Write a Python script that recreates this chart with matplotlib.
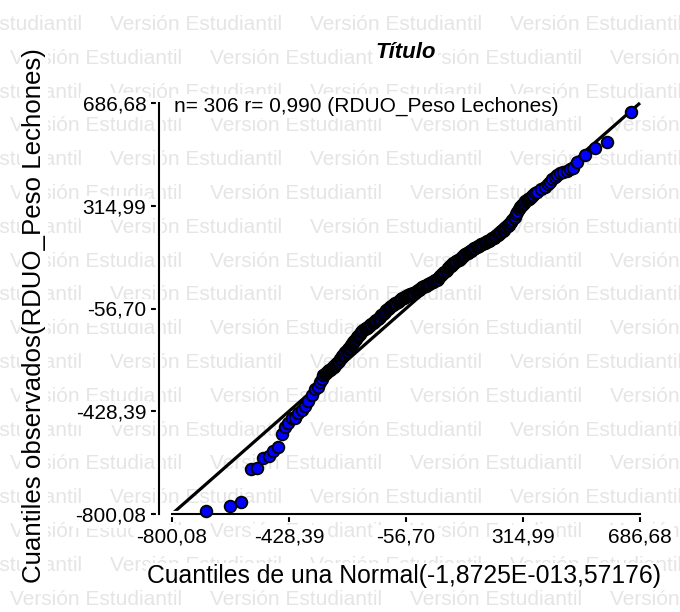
import matplotlib
matplotlib.use("Agg")
import matplotlib.pyplot as plt
import matplotlib.patheffects as pe

plt.rcParams['font.family'] = ['Liberation Sans', 'DejaVu Sans']

# ---- data ----
# lower tail
theo_low = [-692.1, -617.4, -579.3, -549.1, -528.5, -510.1, -491.0, -478.3, -464.3, -452.2,
            -441.1, -430.6, -418.9, -409.3, -398.9, -388.1, -377.6, -367.1, -356.3, -345.8,
            -335.3, -329.0, -324.0]
obs_low = [-789.2, -770.1, -755.6, -639.1, -632.6, -597.5, -589.2, -570.4, -559.5, -511.4,
           -485.4, -472.0, -454.6, -451.0, -435.8, -422.1, -407.6, -390.2, -369.6, -346.1,
           -339.6, -324.0, -310.0]
# dense middle band
theo_mid = [
    -319.4, -315.5, -312.0, -308.5, -305.0, -301.5, -298.5, -295.5, -292.7, -290.0,
    -287.0, -284.0, -281.5, -279.0, -276.9, -273.5, -270.0, -266.5, -263.0, -259.5,
    -255.9, -252.5, -249.0, -245.0, -241.5, -238.0, -234.6, -232.0, -229.0, -226.0,
    -223.5, -221.0, -218.7, -215.5, -212.0, -209.0, -205.5, -202.0, -199.0, -195.5,
    -192.4, -188.5, -185.0, -181.5, -178.0, -174.5, -171.1, -167.0, -163.0, -159.0,
    -155.0, -151.0, -147.0, -143.0, -139.3, -135.0, -131.0, -127.0, -123.0, -119.0,
    -115.0, -111.0, -107.5, -103.5, -99.5, -95.5, -91.5, -87.5, -83.5, -79.5,
    -75.8, -72.0, -68.0, -64.5, -61.0, -57.5, -54.0, -50.5, -47.0, -43.5,
    -40.0, -37.0, -33.5, -30.0, -26.0, -22.5, -19.0, -15.5, -12.0, -8.5,
    -5.0, -1.5, 2.0, 5.5, 9.1, 13.0, 17.0, 21.0, 25.0, 29.0,
    33.0, 37.0, 40.8, 44.5, 48.0, 51.5, 55.0, 58.5, 62.0, 65.5,
    69.0, 72.5, 76.0, 79.5, 83.0, 85.5, 88.0, 91.0, 93.6, 97.0,
    100.0, 103.5, 107.0, 110.5, 114.0, 117.5, 121.0, 125.0, 128.5, 132.0,
    136.1, 139.5, 143.0, 146.5, 150.0, 153.5, 157.0, 160.5, 164.0, 167.5,
    171.0, 174.5, 178.4, 182.0, 186.0, 190.0, 194.0, 198.0, 202.0, 206.0,
    210.2, 214.0, 218.0, 222.0, 226.0, 230.0, 234.0, 238.0, 241.9, 246.0,
    250.0, 254.0, 258.0, 262.0, 266.0, 270.0, 273.7, 277.5, 281.0, 285.5,
    289.6, 293.5, 297.0, 301.0, 305.5, 308.5, 311.0, 314.5, 318.0, 322.0,
    326.7, 330.0, 333.0, 336.5, 340.0, 344.0, 347.7, 353.0,
]
obs_mid = [
    -297.3, -294.0, -290.5, -287.0, -283.0, -280.0, -277.5, -275.5, -273.0, -270.0,
    -267.0, -263.5, -260.5, -257.5, -255.0, -250.5, -245.0, -240.0, -235.0, -230.0,
    -224.9, -220.0, -215.0, -210.0, -205.0, -200.0, -194.9, -190.5, -186.5, -182.5,
    -178.5, -174.5, -170.7, -166.0, -161.0, -156.5, -152.0, -147.5, -143.5, -139.0,
    -134.5, -131.5, -128.5, -125.5, -122.5, -119.5, -116.4, -112.5, -109.0, -105.0,
    -101.5, -97.5, -94.0, -90.0, -86.4, -81.5, -77.0, -72.5, -68.0, -63.5,
    -59.0, -54.5, -50.2, -47.0, -44.0, -41.0, -38.0, -35.0, -32.0, -29.0,
    -26.0, -23.0, -20.5, -17.5, -15.0, -12.5, -10.5, -8.5, -6.5, -5.0,
    -3.5, -2.5, -1.7, 1.0, 3.5, 6.0, 9.0, 12.0, 14.5, 17.0,
    19.5, 22.0, 24.0, 26.0, 28.3, 30.5, 33.0, 35.5, 38.0, 40.5,
    43.0, 45.5, 48.2, 51.5, 55.5, 60.0, 64.0, 68.0, 72.0, 76.0,
    80.0, 84.0, 88.0, 92.0, 95.5, 98.0, 101.0, 104.0, 106.8, 109.5,
    112.0, 114.5, 117.0, 120.0, 122.5, 125.5, 128.5, 132.0, 135.5, 139.0,
    143.0, 145.5, 148.0, 150.5, 153.0, 155.5, 158.0, 160.5, 163.0, 165.5,
    168.0, 170.5, 173.0, 175.0, 177.5, 180.0, 182.0, 184.0, 186.5, 189.0,
    191.1, 194.0, 197.0, 200.0, 203.0, 206.0, 209.0, 212.0, 215.3, 219.5,
    224.0, 228.5, 233.0, 237.5, 242.0, 246.5, 251.5, 257.0, 263.0, 269.0,
    275.4, 284.0, 293.0, 302.0, 311.5, 315.0, 318.0, 322.0, 326.0, 331.0,
    335.8, 338.5, 341.0, 344.0, 347.0, 350.5, 353.9, 360.0,
]
# upper tail
theo_high = [358.5, 372.0, 384.9, 393.0, 400.8, 408.0, 416.6, 424.0, 432.5, 443.0,
             453.8, 464.0, 474.8, 485.6, 512.9, 543.7, 582.8, 657.1]
obs_high = [365.8, 375.0, 383.9, 393.0, 402.0, 411.0, 420.1, 426.0, 432.3, 437.0,
            441.8, 446.5, 451.5, 474.3, 497.5, 525.0, 546.7, 655.2]

tick_values = [-800.08, -428.39, -56.70, 314.99, 686.68]
tick_labels = ["-800,08", "-428,39", "-56,70", "314,99", "686,68"]
line_ends = [-800.08, 686.68]

title = "Título"
xlabel = "Cuantiles de una Normal(-1,8725E-013,57176)"
ylabel = "Cuantiles observados(RDUO_Peso Lechones)"
note = "n= 306 r= 0,990 (RDUO_Peso Lechones)"
watermark = "Versión Estudiantil"

theoretical = theo_low + theo_mid + theo_high
observed = obs_low + obs_mid + obs_high

W, H = 680, 612
fig = plt.figure(figsize=(W / 100, H / 100), dpi=100)
fig.patch.set_facecolor('white')

def fx(px):
    return px / W

def fy(py):
    return 1 - py / H

# watermark
for k in range(19):
    base = 30 + 33.8 * k
    off = 110 if k % 2 == 0 else 10
    for j in range(-1, 5):
        fig.text(fx(off + 200 * j), fy(base), watermark, fontsize=15,
                 color='#e5e5e5', ha='left', va='baseline', zorder=-5)

ax = fig.add_axes([fx(172), fy(514), fx(640) - fx(172), fy(103) - fy(514)])
ax.set_facecolor('none')
ax.set_xlim(tick_values[0], tick_values[-1])
ax.set_ylim(tick_values[0], tick_values[-1])

ax.plot(line_ends, line_ends, color='black', lw=2.3, zorder=2,
        solid_capstyle='butt', clip_on=False)
ax.plot(theoretical, observed, linestyle='none', marker='o', ms=8.4,
        mfc='#0000ff', mec='black', mew=1.3, zorder=3, clip_on=False)

for s in ['top', 'right']:
    ax.spines[s].set_visible(False)
for s in ['left', 'bottom']:
    ax.spines[s].set_linewidth(1.5)
    ax.spines[s].set_path_effects([pe.withStroke(linewidth=4.5, foreground='white')])
ax.spines['left'].set_position(('outward', 9.4))

ax.set_xticks(tick_values, tick_labels)
ax.set_yticks(tick_values, tick_labels)
ax.tick_params(axis='both', direction='out', length=5.5, width=1.5,
               labelsize=15, colors='black')
ax.tick_params(axis='x', pad=4.5)
ax.tick_params(axis='y', pad=3.5)
for t in ax.xaxis.get_major_ticks() + ax.yaxis.get_major_ticks():
    t.label1.set_bbox(dict(boxstyle='square,pad=0.12', fc='white', ec='none'))

ax.text(fx(175) - fx(172), 0.993, note, transform=ax.transAxes, ha='left',
        va='center', fontsize=15, zorder=6,
        bbox=dict(boxstyle='square,pad=0.1', fc='white', ec='none'))

fig.text(fx(406), fy(58), title, fontsize=16, fontweight='bold', style='italic',
         ha='center', va='baseline', zorder=6,
         bbox=dict(boxstyle='square,pad=0.08', fc='white', ec='none'))
fig.text(fx(404), fy(583), xlabel, fontsize=17.8, ha='center', va='baseline', zorder=6,
         bbox=dict(boxstyle='square,pad=0.06', fc='white', ec='none'))
fig.text(fx(34), fy(316), ylabel, fontsize=18.6, rotation=90, ha='center', va='center',
         zorder=6, bbox=dict(boxstyle='square,pad=0.06', fc='white', ec='none'))

fig.savefig('out.png', dpi=100)
